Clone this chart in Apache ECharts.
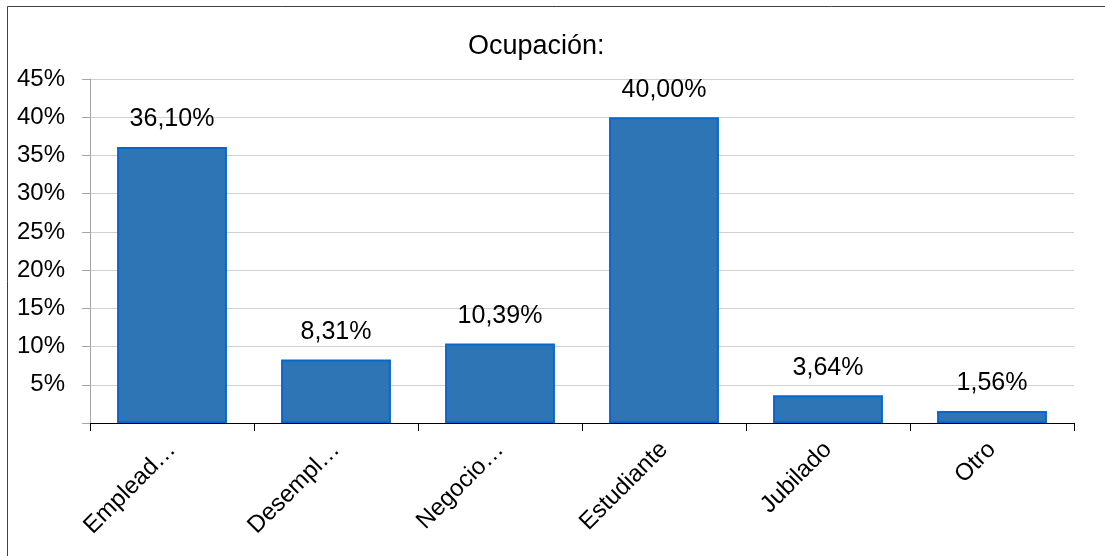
<!DOCTYPE html>
<html>
<head>
<meta charset="utf-8">
<script src="https://cdn.jsdelivr.net/npm/echarts@6/dist/echarts.min.js"></script>
<style>
  html, body { margin: 0; padding: 0; background: #fff; }
  #chart { width: 1105px; height: 556px; }
</style>
</head>
<body>
<div id="chart"></div>
<script>
const categories = ['Emplead…', 'Desempl…', 'Negocio…', 'Estudiante', 'Jubilado', 'Otro']
const values = [36.10, 8.31, 10.39, 40.00, 3.64, 1.56]
const yTicks = { min: 0, max: 45, interval: 5 }

const fmtPct = v => v.toFixed(2).replace('.', ',') + '%'
const FONT = 'Liberation Sans, Arial, sans-serif'

const chart = echarts.init(document.getElementById('chart'))

const option = {
  animation: false,
  textStyle: { fontFamily: FONT },
  title: {
    text: 'Ocupación:',
    left: 463,
    top: 28,
    textStyle: { fontSize: 27, fontWeight: 'normal', color: '#000', fontFamily: FONT }
  },
  graphic: [{
    type: 'rect',
    shape: { x: 7.5, y: 6.5, width: 1200, height: 700 },
    style: { fill: 'none', stroke: '#404040', lineWidth: 1 },
    silent: true
  }],
  grid: { left: 90, right: 31, top: 79, bottom: 133 },
  xAxis: {
    type: 'category',
    data: categories,
    axisLine: { lineStyle: { color: '#000', width: 1 } },
    axisTick: { show: true, length: 8, lineStyle: { color: '#000' } },
    axisLabel: {
      rotate: 45,
      margin: 23,
      fontSize: 24,
      color: '#000',
      fontFamily: FONT
    }
  },
  yAxis: {
    type: 'value',
    min: yTicks.min,
    max: yTicks.max,
    interval: yTicks.interval,
    axisLine: { show: true, lineStyle: { color: '#a6a6a6' } },
    axisTick: { show: true, length: 8, lineStyle: { color: '#a6a6a6' } },
    splitLine: { lineStyle: { color: '#d0d0d0' } },
    axisLabel: {
      margin: 25,
      fontSize: 24,
      color: '#000',
      fontFamily: FONT,
      formatter: v => v === 0 ? '' : v + '%'
    }
  },
  series: [{
    type: 'bar',
    data: values,
    barWidth: '67%',
    itemStyle: { color: '#2e75b6', borderColor: '#0b66cc', borderWidth: 2 },
    label: {
      show: true,
      position: 'top',
      distance: 15,
      fontSize: 25,
      color: '#000',
      fontFamily: FONT,
      formatter: p => fmtPct(p.value)
    }
  }]
}

chart.setOption(option)
window.addEventListener('resize', () => chart.resize())
</script>
</body>
</html>
